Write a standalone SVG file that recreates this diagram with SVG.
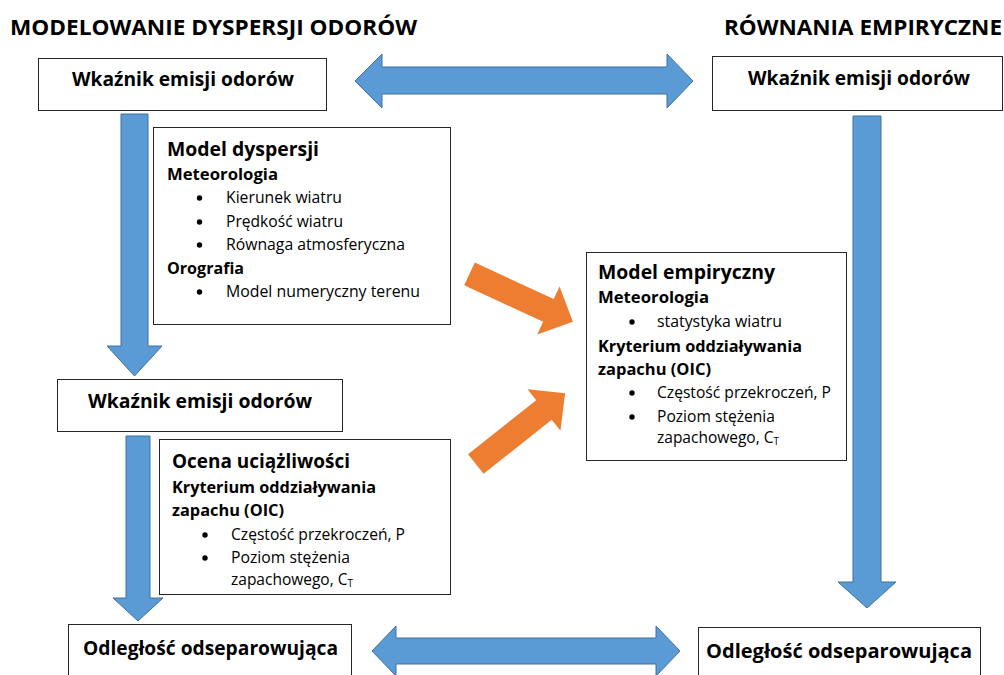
<svg xmlns="http://www.w3.org/2000/svg" width="1004" height="675" viewBox="0 0 1004 675">
<style>
.box{fill:#fff;stroke:#262626;stroke-width:1}
.blue{fill:#5B9BD5;stroke:#41719C;stroke-width:1}
.orange{fill:#ED7D31}
.dot{fill:#000}
text{font-family:"Open Sans","Liberation Sans",sans-serif;fill:#000}
.title{font-size:21px;font-weight:bold}
.lbl{font-size:19px;font-weight:bold}
.head{font-size:19px;font-weight:bold}
.sub{font-size:16px;font-weight:bold}
.body{font-size:15.5px}
</style>
<rect width="1004" height="675" fill="#fff"/>
<g id="titles">
<text class="title" x="10" y="35" textLength="407" lengthAdjust="spacingAndGlyphs">MODELOWANIE DYSPERSJI ODORÓW</text>
<text class="title" x="724" y="35" textLength="278" lengthAdjust="spacingAndGlyphs">RÓWNANIA EMPIRYCZNE</text>
</g>
<g id="node-emisja-left">
<rect class="box" x="38.5" y="58.5" width="288" height="52"/>
<text class="lbl" x="72" y="86" textLength="222" lengthAdjust="spacingAndGlyphs">Wkaźnik emisji odorów</text>
</g>
<g id="node-emisja-right">
<rect class="box" x="712.5" y="56.5" width="290" height="54"/>
<text class="lbl" x="748" y="85" textLength="222" lengthAdjust="spacingAndGlyphs">Wkaźnik emisji odorów</text>
</g>
<g id="node-model-dyspersji">
<rect class="box" x="153.5" y="127.5" width="297" height="197"/>
<text class="head" x="167" y="156" textLength="152" lengthAdjust="spacingAndGlyphs">Model dyspersji</text>
<text class="sub" x="167" y="180" textLength="111" lengthAdjust="spacingAndGlyphs">Meteorologia</text>
<circle class="dot" cx="199.5" cy="198" r="2.7"/>
<text class="body" x="226" y="203" textLength="116" lengthAdjust="spacingAndGlyphs">Kierunek wiatru</text>
<circle class="dot" cx="199.5" cy="222" r="2.7"/>
<text class="body" x="226" y="227" textLength="117" lengthAdjust="spacingAndGlyphs">Prędkość wiatru</text>
<circle class="dot" cx="199.5" cy="245" r="2.7"/>
<text class="body" x="226" y="250" textLength="179" lengthAdjust="spacingAndGlyphs">Równaga atmosferyczna</text>
<text class="sub" x="167" y="274" textLength="77" lengthAdjust="spacingAndGlyphs">Orografia</text>
<circle class="dot" cx="199.5" cy="292" r="2.7"/>
<text class="body" x="226" y="297" textLength="194" lengthAdjust="spacingAndGlyphs">Model numeryczny terenu</text>
</g>
<g id="node-emisja-mid">
<rect class="box" x="57.5" y="379.5" width="285" height="52"/>
<text class="lbl" x="88" y="408" textLength="224" lengthAdjust="spacingAndGlyphs">Wkaźnik emisji odorów</text>
</g>
<g id="node-ocena">
<rect class="box" x="159.5" y="439.5" width="291" height="155"/>
<text class="head" x="172" y="468" textLength="178" lengthAdjust="spacingAndGlyphs">Ocena uciążliwości</text>
<text class="sub" x="172" y="493" textLength="204" lengthAdjust="spacingAndGlyphs">Kryterium oddziaływania</text>
<text class="sub" x="172" y="516" textLength="112" lengthAdjust="spacingAndGlyphs">zapachu (OIC)</text>
<circle class="dot" cx="205" cy="535" r="2.7"/>
<text class="body" x="231" y="540" textLength="174" lengthAdjust="spacingAndGlyphs">Częstość przekroczeń, P</text>
<circle class="dot" cx="205" cy="558" r="2.7"/>
<text class="body" x="231" y="563" textLength="119" lengthAdjust="spacingAndGlyphs">Poziom stężenia</text>
<text class="body" x="231" y="585">zapachowego, C<tspan font-size="10" dy="2">T</tspan></text>
</g>
<g id="node-model-empiryczny">
<rect class="box" x="586.5" y="252.5" width="260" height="208"/>
<text class="head" x="598" y="279" textLength="177" lengthAdjust="spacingAndGlyphs">Model empiryczny</text>
<text class="sub" x="598" y="303" textLength="111" lengthAdjust="spacingAndGlyphs">Meteorologia</text>
<circle class="dot" cx="632" cy="322" r="2.7"/>
<text class="body" x="657" y="327" textLength="125" lengthAdjust="spacingAndGlyphs">statystyka wiatru</text>
<text class="sub" x="598" y="352" textLength="204" lengthAdjust="spacingAndGlyphs">Kryterium oddziaływania</text>
<text class="sub" x="598" y="375" textLength="113" lengthAdjust="spacingAndGlyphs">zapachu (OIC)</text>
<circle class="dot" cx="632" cy="393" r="2.7"/>
<text class="body" x="657" y="398" textLength="174" lengthAdjust="spacingAndGlyphs">Częstość przekroczeń, P</text>
<circle class="dot" cx="632" cy="417" r="2.7"/>
<text class="body" x="657" y="422" textLength="118" lengthAdjust="spacingAndGlyphs">Poziom stężenia</text>
<text class="body" x="657" y="443">zapachowego, C<tspan font-size="10" dy="2">T</tspan></text>
</g>
<g id="node-odleglosc-left">
<rect class="box" x="68.5" y="624.5" width="283" height="60"/>
<text class="lbl" x="83" y="655" textLength="255" lengthAdjust="spacingAndGlyphs">Odległość odseparowująca</text>
</g>
<g id="node-odleglosc-right">
<rect class="box" x="698.5" y="627.5" width="282" height="60"/>
<text class="lbl" x="706" y="658" textLength="266" lengthAdjust="spacingAndGlyphs">Odległość odseparowująca</text>
</g>
<g id="connectors">
<polygon class="blue" points="355,81 382,54 382,67 667,67 667,54 693,81 667,108 667,94 382,94 382,108"/>
<polygon class="blue" points="372,651 396,626 396,638 656,638 656,626 680,651 656,676 656,664 396,664 396,676"/>
<polygon class="blue" points="121,114 148,114 148,346 162,346 134.5,376 107,346 121,346"/>
<polygon class="blue" points="126,436 150,436 150,598 163,598 138,621 113,598 126,598"/>
<polygon class="blue" points="853,116 881,116 881,582 896,582 867,608 838,582 853,582"/>
<polygon class="orange" transform="translate(469.5,273.8) rotate(24.9)" points="0,-12.5 87,-12.5 87,-26.5 114,0 87,26.5 87,12.5 0,12.5"/>
<polygon class="orange" transform="translate(475.8,464) rotate(-38.4)" points="0,-12.5 87,-12.5 87,-26.5 114,0 87,26.5 87,12.5 0,12.5"/>
</g>
</svg>
